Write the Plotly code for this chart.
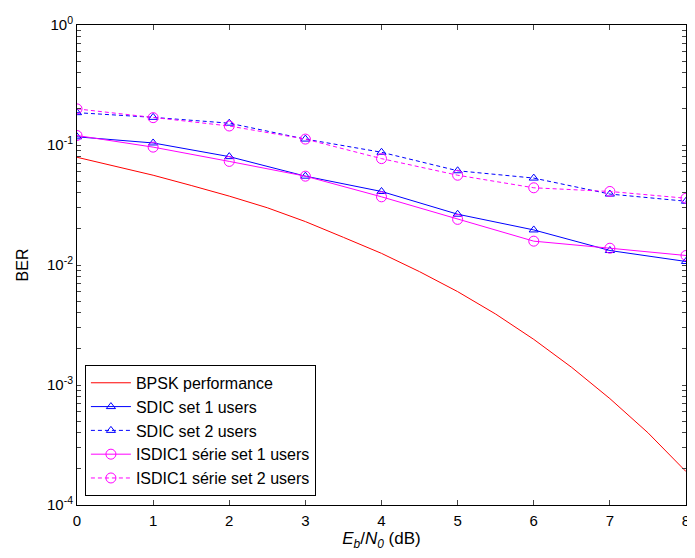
import plotly.graph_objects as go

ebn0 = [0, 1, 2, 3, 4, 5, 6, 7, 8]
bpsk_x = [0, 0.5, 1, 1.5, 2, 2.5, 3, 3.5, 4, 4.5, 5, 5.5, 6, 6.5, 7, 7.5, 8]
bpsk_ber = [0.079, 0.067, 0.056, 0.046, 0.0375, 0.030, 0.023, 0.017, 0.0125,
            0.0088, 0.006, 0.0039, 0.0024, 0.0014, 0.00077, 0.0004, 0.00019]
sdic_set1 = [0.117, 0.104, 0.080, 0.055, 0.041, 0.0265, 0.0196, 0.0132, 0.0107]
sdic_set2 = [0.186, 0.170, 0.152, 0.112, 0.087, 0.061, 0.053, 0.039, 0.034]
isdic_set1 = [0.120, 0.096, 0.073, 0.055, 0.037, 0.024, 0.0158, 0.0138, 0.012]
isdic_set2 = [0.200, 0.169, 0.144, 0.112, 0.077, 0.056, 0.044, 0.041, 0.036]

names = ["BPSK performance", "SDIC set 1 users", "SDIC set 2 users",
         "ISDIC1 série set 1 users", "ISDIC1 série set 2 users"]

fig = go.Figure()
fig.add_trace(go.Scatter(x=bpsk_x, y=bpsk_ber, mode="lines", name=names[0],
                         line=dict(color="#ff0000", width=1)))
fig.add_trace(go.Scatter(x=ebn0, y=sdic_set1, mode="lines+markers", name=names[1],
                         line=dict(color="#0000ff", width=1),
                         marker=dict(symbol="triangle-up-open", size=8, color="#0000ff", line=dict(width=1))))
fig.add_trace(go.Scatter(x=ebn0, y=sdic_set2, mode="lines+markers", name=names[2],
                         line=dict(color="#0000ff", width=1, dash="4px,3px"),
                         marker=dict(symbol="triangle-up-open", size=8, color="#0000ff", line=dict(width=1))))
fig.add_trace(go.Scatter(x=ebn0, y=isdic_set1, mode="lines+markers", name=names[3],
                         line=dict(color="#ff00ff", width=1),
                         marker=dict(symbol="circle-open", size=10, color="#ff00ff", line=dict(width=1))))
fig.add_trace(go.Scatter(x=ebn0, y=isdic_set2, mode="lines+markers", name=names[4],
                         line=dict(color="#ff00ff", width=1, dash="4px,3px"),
                         marker=dict(symbol="circle-open", size=10, color="#ff00ff", line=dict(width=1))))

yt_vals = []
yt_text = []
for e in [-4, -3, -2, -1]:
    for m in range(1, 10):
        yt_vals.append(m * 10 ** e)
        yt_text.append(f"10<sup>{e}</sup>" if m == 1 else "")
yt_vals.append(1)
yt_text.append("10<sup>0</sup>")

fig.update_layout(
    width=687, height=550,
    margin=dict(l=69, r=9, t=17, b=53, autoexpand=False),
    paper_bgcolor="white", plot_bgcolor="white",
    font=dict(family="Liberation Sans, Arial, sans-serif", size=15, color="black"),
    showlegend=True,
    legend=dict(x=0.013, y=0.019, xanchor="left", yanchor="bottom",
                bordercolor="black", borderwidth=1, bgcolor="white",
                font=dict(size=16), tracegroupgap=0, itemwidth=40),
    xaxis=dict(range=[0, 8], tickvals=ebn0, ticks="inside", ticklen=5,
               showline=True, linecolor="black", linewidth=1, mirror="ticks",
               showgrid=False, zeroline=False, automargin=False,
               ticklabeloverflow="allow", ticklabelstandoff=2,
               title=dict(text="<i>E<sub>b</sub></i>/<i>N<sub>0</sub></i> (dB)", standoff=4,
                          font=dict(size=17))),
    yaxis=dict(type="log", range=[-4, 0], tickvals=yt_vals, ticktext=yt_text,
               ticks="inside", ticklen=4,
               showline=True, linecolor="black", linewidth=1, mirror="ticks",
               showgrid=False, zeroline=False, automargin=False,
               title=dict(text="BER", standoff=14, font=dict(size=16))),
)

fig.write_html("out.html")
